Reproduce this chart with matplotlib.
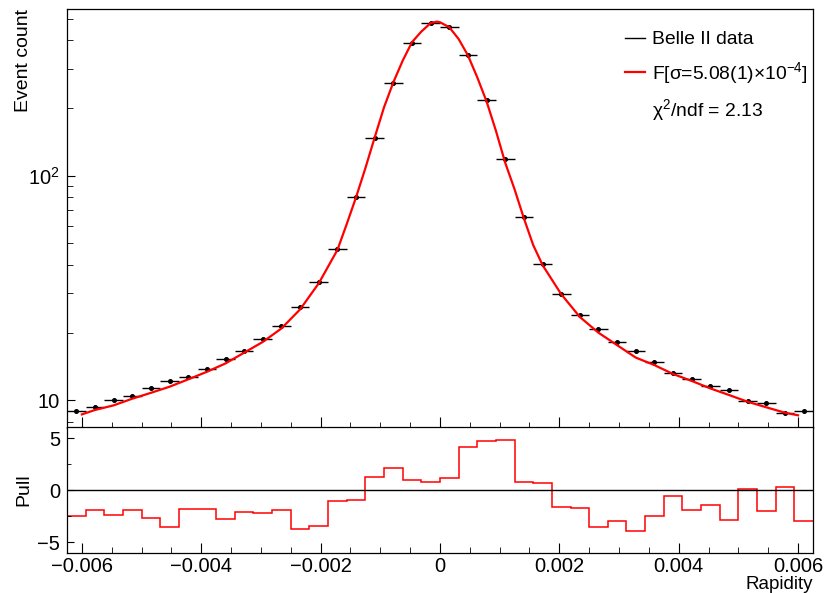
import numpy as np
import matplotlib
matplotlib.use("Agg")
import matplotlib.pyplot as plt
from matplotlib.lines import Line2D
from matplotlib.ticker import MultipleLocator, LogLocator, NullFormatter

plt.rcParams['font.family'] = ['Liberation Sans', 'DejaVu Sans']
plt.rcParams['mathtext.fontset'] = 'custom'
plt.rcParams['mathtext.rm'] = 'Liberation Sans'
plt.rcParams['mathtext.it'] = 'Liberation Sans:italic'

# binning
x_lo, x_hi, n_bins = -0.00625, 0.00625, 40

# event counts per bin
counts = [8.99, 9.33, 10.0, 10.48, 11.31, 12.23, 12.70, 13.82, 15.22, 16.63,
          18.69, 21.36, 26.11, 33.6, 47.3, 80.6, 146.7, 258.6, 391, 477,
          458, 345, 216.6, 118.3, 65.7, 40.6, 29.8, 23.98, 20.77, 18.12,
          16.63, 14.81, 13.19, 12.44, 11.54, 11.08, 9.93, 9.70, 8.81, 8.99]

# pull per bin
pull = [-2.44, -1.89, -2.37, -1.89, -2.69, -3.59, -1.79, -1.79, -2.79, -2.05,
        -2.24, -1.89, -3.69, -3.43, -1.03, -0.90, 1.25, 2.15, 0.96, 0.80,
        1.15, 4.13, 4.78, 4.87, 0.83, 0.74, -1.63, -1.73, -3.53, -2.95,
        -3.97, -2.44, -0.54, -1.89, -1.44, -2.85, 0.10, -1.96, 0.29, -2.95]

# fit curve
fit_x = [-0.0060, -0.005781, -0.005469, -0.005156, -0.004844, -0.004531,
         -0.004219, -0.003906, -0.003594, -0.003281, -0.002969, -0.002656,
         -0.002344, -0.002031, -0.001719, -0.0015625, -0.001406, -0.00125,
         -0.001094, -0.0009375, -0.000781, -0.000625, -0.000469, -0.0003125,
         -0.000156, -0.00005, 0.0, 0.000156, 0.0003125, 0.000469, 0.000625,
         0.000781, 0.0009375, 0.001094, 0.00125, 0.001406, 0.0015625,
         0.001719, 0.002031, 0.002344, 0.002656, 0.002969, 0.003281,
         0.003594, 0.003906, 0.004219, 0.004531, 0.004844, 0.005156,
         0.005469, 0.005781, 0.0060]
fit_y = [8.66, 9.06, 9.5, 10.17, 10.8, 11.5,
         12.4, 13.4, 14.6, 16.3, 18.2, 20.9,
         25.4, 33.2, 46.7, 60.9, 80.2, 108,
         148, 201.6, 260.6, 325, 393, 438,
         478, 485, 482, 458, 406, 343, 274,
         214, 158.5, 114, 87, 64.6, 49.1,
         40, 29.7, 23.5, 20.0, 17.6, 15.5,
         14.35, 13.1, 12.2, 11.3, 10.56, 9.86,
         9.31, 8.81, 8.58]

edges = np.linspace(x_lo, x_hi, n_bins + 1)
centers = 0.5 * (edges[1:] + edges[:-1])
half = 0.5 * (edges[1] - edges[0])

fig = plt.figure(figsize=(8.25, 5.93), dpi=100)
ax = fig.add_axes([0.0812, 0.2782, 0.9042, 0.7066])
ax2 = fig.add_axes([0.0812, 0.0675, 0.9042, 0.2124])

ax.errorbar(centers, counts, xerr=half, fmt='o', ms=2.6, color='black',
            elinewidth=1.0, capsize=0, zorder=3)
ax.plot(fit_x, fit_y, color='red', lw=1.6, zorder=4)

ax.set_yscale('log')
ax.set_xlim(x_lo, x_hi)
ax.set_ylim(7.53, 552)
ax.set_yticks([10, 100])
ax.set_yticklabels(['10', '$\\mathregular{10^{2}}$'])
ax.yaxis.set_minor_locator(LogLocator(base=10, subs=np.arange(2, 10)))
ax.yaxis.set_minor_formatter(NullFormatter())
ax.xaxis.set_major_locator(MultipleLocator(0.002))
ax.xaxis.set_minor_locator(MultipleLocator(0.0005))
ax.tick_params(axis='x', which='both', direction='in', labelbottom=False)
ax.tick_params(axis='x', which='major', length=8)
ax.tick_params(axis='x', which='minor', length=4)
ax.tick_params(axis='y', which='major', direction='in', length=6, labelsize=14.5, pad=5)
ax.tick_params(axis='y', which='minor', direction='in', length=4)
ax.set_ylabel('Event count', fontsize=14, loc='top')
ax.yaxis.set_label_coords(-0.047, 1.0)

handles = [Line2D([], [], color='black', lw=1.0),
           Line2D([], [], color='red', lw=1.6),
           Line2D([], [], color='none')]
labels = ['Belle II data',
          'F[σ=5.08(1)×10$^{\\mathregular{-4}}$]',
          'χ$^{\\mathregular{2}}$/ndf = 2.13']
ax.legend(handles, labels, loc='upper left', bbox_to_anchor=(0.748, 0.948),
          frameon=False, fontsize=13.9, handlelength=1.05, handletextpad=0.35,
          labelspacing=0.6, borderpad=0, borderaxespad=0)

ax2.stairs(pull, edges, color='red', lw=1.1, baseline=None)
ax2.axhline(0, color='black', lw=1.0)
ax2.set_xlim(x_lo, x_hi)
ax2.set_ylim(-6.05, 6.1)
ax2.xaxis.set_major_locator(MultipleLocator(0.002))
ax2.xaxis.set_minor_locator(MultipleLocator(0.0005))
ax2.yaxis.set_major_locator(MultipleLocator(5))
ax2.yaxis.set_minor_locator(MultipleLocator(2.5))
ax2.tick_params(axis='x', which='major', direction='in', length=7, labelsize=14.5, pad=3)
ax2.tick_params(axis='x', which='minor', direction='in', length=4)
ax2.tick_params(axis='y', which='major', direction='in', length=5, labelsize=14.5, pad=5)
ax2.tick_params(axis='y', which='minor', direction='in', length=3)
ax2.xaxis.set_major_formatter(matplotlib.ticker.FuncFormatter(
    lambda v, p: '0' if abs(v) < 1e-12 else ('%.3f' % v).replace('-', '\u2212')))
ax2.set_ylabel('Pull', fontsize=14)
ax2.yaxis.set_label_coords(-0.047, 0.5)
ax2.set_xlabel('Rapidity', fontsize=13.5, loc='right')
ax2.xaxis.set_label_coords(1.0, -0.185)

for a in (ax, ax2):
    for s in a.spines.values():
        s.set_linewidth(0.9)

fig.savefig('out.png', dpi=100)
